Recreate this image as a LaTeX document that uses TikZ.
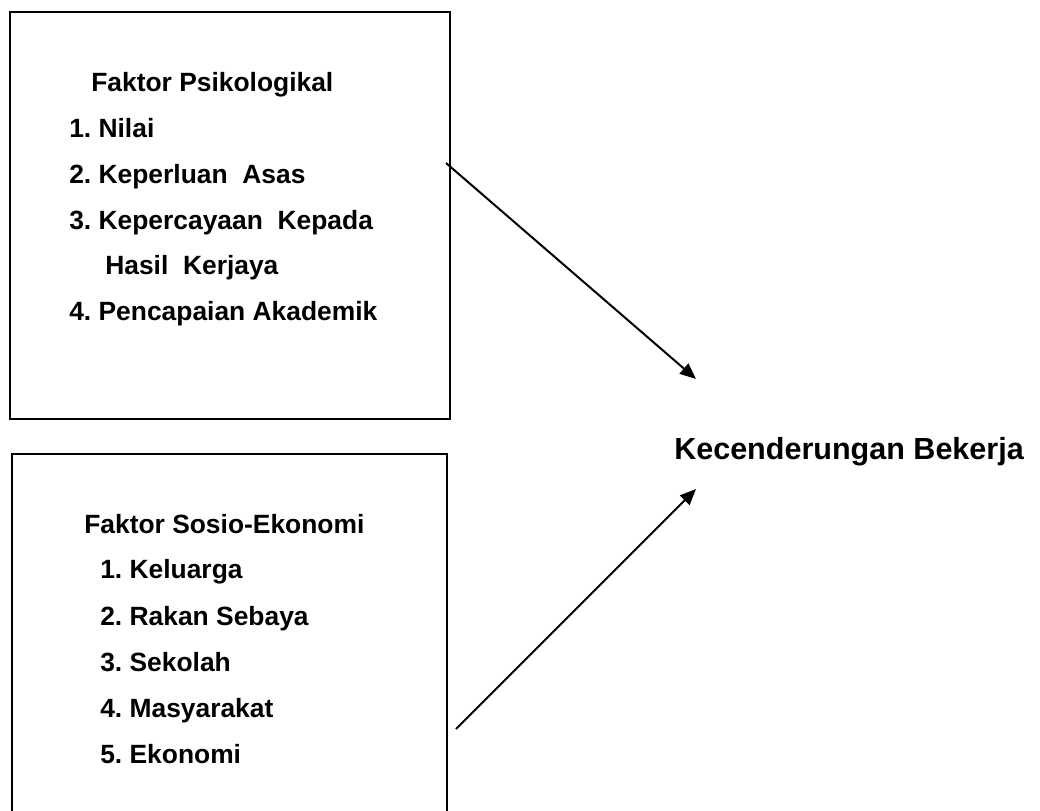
\documentclass[tikz,border=0pt]{standalone}
\usepackage{fontspec}
\setmainfont{Liberation Sans}
\usetikzlibrary{arrows.meta}
\frenchspacing
\begin{document}
\begin{tikzpicture}[x=0.75pt,y=-0.75pt,
  framebox/.style={draw=black,line width=1.5pt,inner sep=0pt,anchor=north west},
  item/.style={anchor=base west,inner sep=0pt,font=\fontsize{19.8}{24}\selectfont\bfseries\frenchspacing},
  bigtext/.style={anchor=base west,inner sep=0pt,font=\fontsize{22.9}{27}\selectfont\bfseries},
  conn/.style={line width=1.5pt,-{Triangle[length=12pt,width=10pt]}}]
\useasboundingbox (0,0) rectangle (1040,811);
\clip (0,0) rectangle (1040,811);
% boxes
\node[framebox,minimum width=330pt,minimum height=305.25pt] (box1) at (9,11) {};
\node[framebox,minimum width=326.25pt,minimum height=285pt] (box2) at (11,453) {};
% box 1 texts
\node[item] (t1) at (91,91) {Faktor Psikologikal};
\node[item] (a1) at (69,137) {1. Nilai};
\node[item] (a2) at (69,183) {2. Keperluan\ \ Asas};
\node[item] (a3) at (69,229) {3. Kepercayaan\ \ Kepada};
\node[item] (a3b) at (105,274) {Hasil\ \ Kerjaya};
\node[item] (a4) at (69,320) {4. Pencapaian Akademik};
% box 2 texts
\node[item] (t2) at (84,533) {Faktor Sosio-Ekonomi};
\node[item] (b1) at (100,578) {1. Keluarga};
\node[item] (b2) at (100,625) {2. Rakan Sebaya};
\node[item] (b3) at (100,671) {3. Sekolah};
\node[item] (b4) at (100,717) {4. Masyarakat};
\node[item] (b5) at (100,763) {5. Ekonomi};
% target
\node[bigtext] (target) at (674,459) {Kecenderungan Bekerja};
% connectors
\coordinate (s1) at (446,163);
\coordinate (e1) at (696,379);
\coordinate (s2) at (456,729);
\coordinate (e2) at (696,489);
\draw[conn] (s1) -- (e1);
\draw[conn] (s2) -- (e2);
\end{tikzpicture}
\end{document}
